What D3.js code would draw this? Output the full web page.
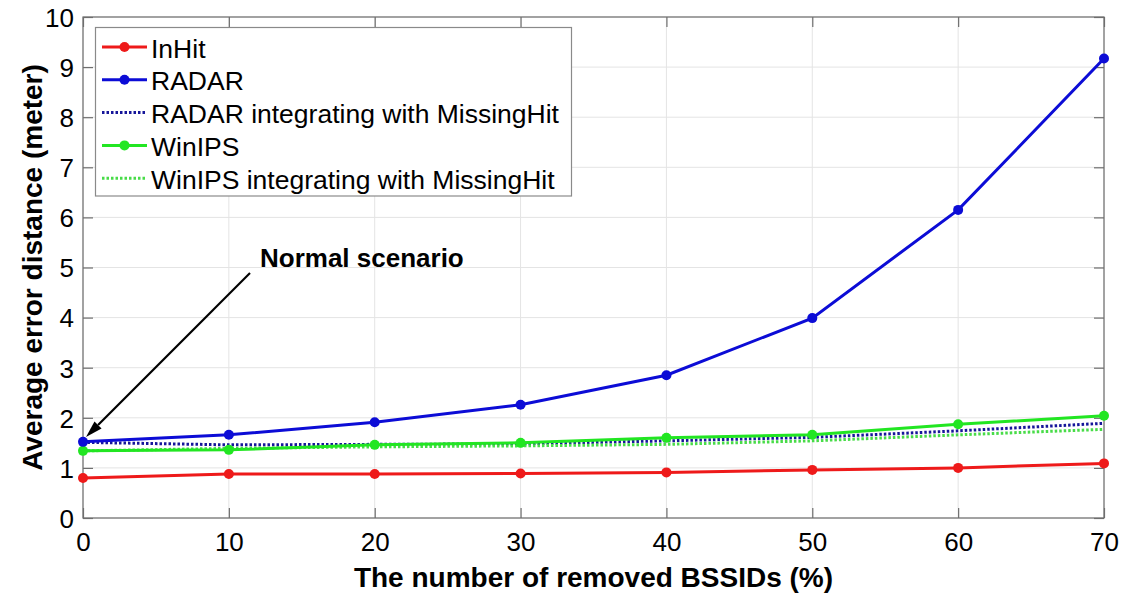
<!DOCTYPE html>
<html>
<head>
<meta charset="utf-8">
<script src="https://cdn.jsdelivr.net/npm/d3@7/dist/d3.min.js"></script>
<style>
  html, body { margin: 0; padding: 0; background: #fff; }
  svg { display: block; font-family: "Liberation Sans", Arial, Helvetica, sans-serif; }
</style>
</head>
<body>
<svg id="chart" width="1125" height="596"></svg>
<script>
// Removed BSSIDs (%) on the x axis
const removedPct = [0, 10, 20, 30, 40, 50, 60, 70];

// Average error distance (m) per method
const inHit      = [0.80, 0.88, 0.88, 0.89, 0.91, 0.96, 1.00, 1.09];
const radar      = [1.52, 1.66, 1.91, 2.26, 2.85, 3.99, 6.15, 9.17];
const radarMH    = [1.51, 1.46, 1.47, 1.48, 1.54, 1.61, 1.74, 1.89];
const winIPS     = [1.34, 1.36, 1.46, 1.50, 1.60, 1.66, 1.87, 2.04];
const winIPSMH   = [1.34, 1.39, 1.42, 1.44, 1.47, 1.54, 1.66, 1.77];

const xTicks = [0, 10, 20, 30, 40, 50, 60, 70];
const yTicks = [0, 1, 2, 3, 4, 5, 6, 7, 8, 9, 10];

const seriesNames = [
  "InHit",
  "RADAR",
  "RADAR integrating with MissingHit",
  "WinIPS",
  "WinIPS integrating with MissingHit"
];

const series = [
  { name: seriesNames[0], values: inHit,    color: "#ee1a1a", dotted: false },
  { name: seriesNames[1], values: radar,    color: "#0c0cd6", dotted: false },
  { name: seriesNames[2], values: radarMH,  color: "#16169a", dotted: true  },
  { name: seriesNames[3], values: winIPS,   color: "#22e622", dotted: false },
  { name: seriesNames[4], values: winIPSMH, color: "#48dc48", dotted: true  }
];

const svg = d3.select("#chart");
const plotL = 83, plotR = 1104, plotT = 17, plotB = 518;

const x = d3.scaleLinear().domain([0, 70]).range([plotL, plotR]);
const y = d3.scaleLinear().domain([0, 10]).range([plotB, plotT]);

// grid
const grid = svg.append("g");
grid.selectAll("line.gx").data(xTicks).join("line")
  .attr("x1", d => x(d)).attr("x2", d => x(d))
  .attr("y1", plotT).attr("y2", plotB)
  .attr("stroke", "#e4e4e4").attr("stroke-width", 1);
grid.selectAll("line.gy").data(yTicks).join("line")
  .attr("x1", plotL).attr("x2", plotR)
  .attr("y1", d => y(d)).attr("y2", d => y(d))
  .attr("stroke", "#e4e4e4").attr("stroke-width", 1);

// axes with inward ticks on all four sides
const axisColor = "#6e6e6e";
function styleAxis(g) {
  g.select(".domain").remove();
  g.selectAll(".tick line").attr("stroke", axisColor).attr("stroke-width", 1.2);
}
svg.append("g").attr("transform", `translate(0,${plotB})`)
  .call(d3.axisBottom(x).tickValues(xTicks).tickSize(-10).tickPadding(0).tickFormat(d3.format("d")))
  .call(styleAxis)
  .call(g => g.selectAll(".tick text").attr("font-size", 26).attr("fill", "#000")
    .attr("dy", 0).attr("y", 33).attr("font-family", "Liberation Sans, Arial, sans-serif"));
svg.append("g").attr("transform", `translate(0,${plotT})`)
  .call(d3.axisTop(x).tickValues(xTicks).tickSize(-10).tickFormat(""))
  .call(styleAxis);
svg.append("g").attr("transform", `translate(${plotL},0)`)
  .call(d3.axisLeft(y).tickValues(yTicks).tickSize(-10).tickPadding(0).tickFormat(d3.format("d")))
  .call(styleAxis)
  .call(g => g.selectAll(".tick text").attr("font-size", 26).attr("fill", "#000")
    .attr("x", -9).attr("dy", "0.36em").attr("font-family", "Liberation Sans, Arial, sans-serif"));
svg.append("g").attr("transform", `translate(${plotR},0)`)
  .call(d3.axisRight(y).tickValues(yTicks).tickSize(-10).tickFormat(""))
  .call(styleAxis);

svg.append("rect")
  .attr("x", plotL).attr("y", plotT)
  .attr("width", plotR - plotL).attr("height", plotB - plotT)
  .attr("fill", "none").attr("stroke", axisColor).attr("stroke-width", 1.2);

// series lines and markers
const line = d3.line().x((d, i) => x(removedPct[i])).y(d => y(d));
const plot = svg.append("g");
// dotted series go underneath the solid ones
const order = [2, 4, 0, 3, 1];
order.forEach(k => {
  const s = series[k];
  plot.append("path")
    .datum(s.values)
    .attr("d", line)
    .attr("fill", "none")
    .attr("stroke", s.color)
    .attr("stroke-width", s.dotted ? 3 : 3)
    .attr("stroke-dasharray", s.dotted ? "2.5,2" : null);
  if (!s.dotted) {
    plot.selectAll(null).data(s.values).join("circle")
      .attr("cx", (d, i) => x(removedPct[i]))
      .attr("cy", d => y(d))
      .attr("r", 5)
      .attr("fill", s.color);
  }
});

// annotation
svg.append("text")
  .attr("x", 260).attr("y", 267)
  .attr("font-size", 26).attr("font-weight", "bold")
  .text("Normal scenario");

const ax0 = 250, ay0 = 273, ax1 = 86, ay1 = 437;
const ang = Math.atan2(ay1 - ay0, ax1 - ax0);
const headLen = 17, headW = 5;
const bx = ax1 - headLen * Math.cos(ang), by = ay1 - headLen * Math.sin(ang);
svg.append("line")
  .attr("x1", ax0).attr("y1", ay0).attr("x2", bx).attr("y2", by)
  .attr("stroke", "#000").attr("stroke-width", 2.2);
svg.append("polygon")
  .attr("points", [
    [ax1, ay1],
    [bx + headW * Math.sin(ang), by - headW * Math.cos(ang)],
    [bx - headW * Math.sin(ang), by + headW * Math.cos(ang)]
  ].map(p => p.join(",")).join(" "))
  .attr("fill", "#000");

// legend
const lg = svg.append("g");
lg.append("rect")
  .attr("x", 95.5).attr("y", 27.5).attr("width", 476).attr("height", 168.5)
  .attr("fill", "#fff").attr("stroke", "#8a8a8a").attr("stroke-width", 1.2);
series.forEach((s, i) => {
  const ly = 47 + i * 32.8;
  lg.append("line")
    .attr("x1", 102).attr("x2", 147).attr("y1", ly).attr("y2", ly)
    .attr("stroke", s.color)
    .attr("stroke-width", 3)
    .attr("stroke-dasharray", s.dotted ? "2.5,2" : null);
  if (!s.dotted) {
    lg.append("circle").attr("cx", 124.5).attr("cy", ly).attr("r", 5).attr("fill", s.color);
  }
  lg.append("text")
    .attr("x", 151).attr("y", ly + 10.5)
    .attr("font-size", 26.5).attr("fill", "#000")
    .text(s.name);
});

// axis titles
svg.append("text")
  .attr("x", (plotL + plotR) / 2).attr("y", 587)
  .attr("text-anchor", "middle")
  .attr("font-size", 28).attr("font-weight", "bold")
  .text("The number of removed BSSIDs (%)");
svg.append("text")
  .attr("transform", `translate(32,${(plotT + plotB) / 2}) rotate(-90)`)
  .attr("text-anchor", "middle").attr("dy", "0.35em")
  .attr("font-size", 28).attr("font-weight", "bold")
  .text("Average error distance (meter)");
</script>
</body>
</html>
